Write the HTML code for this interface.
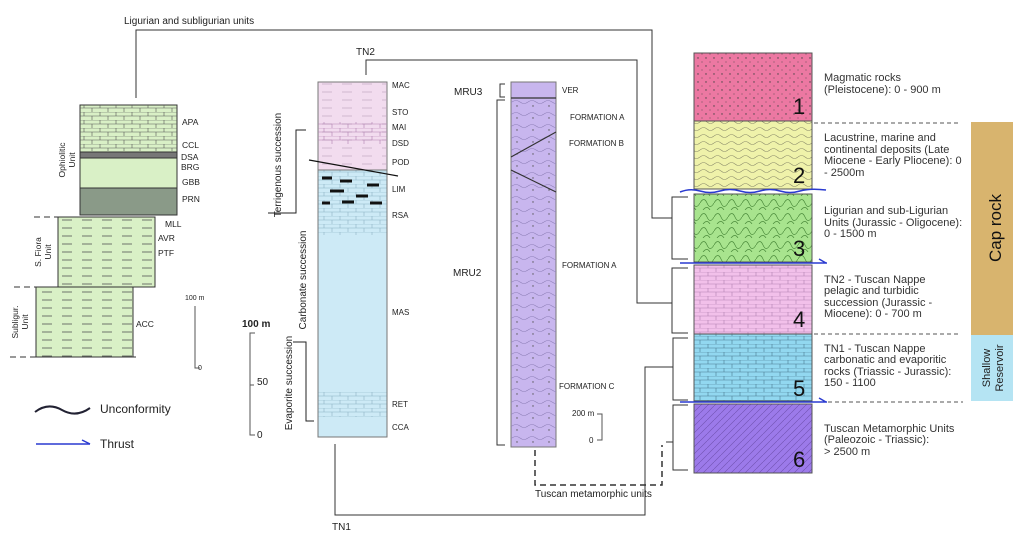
<!DOCTYPE html>
<html><head><meta charset="utf-8"><style>
body{margin:0;background:#fff;}
svg{display:block;font-family:"Liberation Sans",sans-serif;}
</style></head><body>
<svg width="1024" height="533" viewBox="0 0 1024 533" xmlns="http://www.w3.org/2000/svg">
<defs>
<pattern id="dots" width="8" height="8" patternUnits="userSpaceOnUse"><circle cx="2" cy="2" r="0.7" fill="#444"/><circle cx="6" cy="6" r="0.5" fill="#444"/></pattern>
<pattern id="wav" width="14" height="7" patternUnits="userSpaceOnUse"><path d="M0 3 Q3.5 0 7 3 T14 3" fill="none" stroke="#8a8a6a" stroke-width="0.6"/></pattern>
<pattern id="wavm" width="16" height="12" patternUnits="userSpaceOnUse"><path d="M0 6 Q4 3 8 6 T16 6" fill="none" stroke="#8e80b8" stroke-width="0.6"/><circle cx="5" cy="10" r="0.7" fill="#555"/></pattern>
<pattern id="brick" width="16" height="8" patternUnits="userSpaceOnUse"><path d="M0 0H16M0 4H16M4 0V4M12 4V8" fill="none" stroke="#4a7a90" stroke-width="0.6"/></pattern>
<pattern id="brickg" width="16" height="8" patternUnits="userSpaceOnUse"><path d="M0 0H16M0 4H16M4 0V4M12 4V8" fill="none" stroke="#555" stroke-width="0.6"/></pattern>
<pattern id="brickp" width="16" height="8" patternUnits="userSpaceOnUse"><path d="M0 0H16M0 4H16M4 0V4M12 4V8" fill="none" stroke="#b080b0" stroke-width="0.6"/></pattern>
<pattern id="diag" width="7" height="7" patternUnits="userSpaceOnUse"><path d="M0 7L7 0" stroke="#7050b0" stroke-width="0.6"/></pattern>
<pattern id="swirl" width="14" height="14" patternUnits="userSpaceOnUse"><path d="M0 7 Q4 0 7 7 T14 7M3 14 Q7 9 10 14" fill="none" stroke="#4a8a3a" stroke-width="0.7"/></pattern>
<pattern id="hl" width="20" height="8" patternUnits="userSpaceOnUse"><path d="M2 4H12" stroke="#555" stroke-width="0.8"/></pattern>
<pattern id="hlp" width="20" height="8" patternUnits="userSpaceOnUse"><path d="M2 4H12" stroke="#b9a0b9" stroke-width="0.6"/></pattern>
</defs>

<!-- left column -->
<g stroke="#333" stroke-width="1">
<rect x="80" y="105" width="97" height="110" fill="#d9f0c6"/>
<rect x="80" y="105" width="97" height="46" fill="url(#brickg)" stroke="none"/>
<rect x="80" y="152" width="97" height="6" fill="#777"/>
<rect x="80" y="188" width="97" height="27" fill="#8a9a88"/>
<rect x="58" y="217" width="97" height="70" fill="#d9f0c6"/>
<rect x="58" y="217" width="97" height="70" fill="url(#hl)" stroke="none"/>
<rect x="36" y="287" width="97" height="70" fill="#d9f0c6"/>
<rect x="36" y="287" width="97" height="70" fill="url(#hl)" stroke="none"/>
</g>
<g stroke="#333" stroke-dasharray="6,4"><line x1="34" y1="217" x2="60" y2="217"/><line x1="14" y1="287" x2="38" y2="287"/><line x1="10" y1="357" x2="140" y2="357"/></g>
<g font-size="8.5" fill="#222">
<text x="182" y="125">APA</text><text x="182" y="148">CCL</text><text x="181" y="160">DSA</text><text x="181" y="170">BRG</text><text x="182" y="185">GBB</text><text x="182" y="202">PRN</text>
<text x="165" y="227">MLL</text><text x="158" y="241">AVR</text><text x="158" y="256">PTF</text><text x="136" y="327">ACC</text>
<text font-size="7" x="185" y="300">100 m</text><text font-size="7" x="198" y="370">0</text>
</g>
<path d="M195 306V368H200" fill="none" stroke="#555"/>
<g font-size="8.5" fill="#222">
<text transform="translate(65,160) rotate(-90)" text-anchor="middle">Ophiolitic</text><text transform="translate(75,160) rotate(-90)" text-anchor="middle">Unit</text>
<text transform="translate(41,252) rotate(-90)" text-anchor="middle">S. Fiora</text><text transform="translate(51,252) rotate(-90)" text-anchor="middle">Unit</text>
<text transform="translate(18,322) rotate(-90)" text-anchor="middle">Subligur.</text><text transform="translate(28,322) rotate(-90)" text-anchor="middle">Unit</text>
</g>
<!-- legend -->
<path d="M35 412 Q48 402 62 410 T90 408" fill="none" stroke="#223" stroke-width="2"/>
<text x="100" y="413" font-size="12" fill="#222">Unconformity</text>
<line x1="36" y1="444" x2="90" y2="444" stroke="#2a3ad0" stroke-width="1.5"/><path d="M82 440L90 444" stroke="#2a3ad0" stroke-width="1.5"/>
<text x="100" y="448" font-size="12" fill="#222">Thrust</text>

<!-- connectors -->
<g fill="none" stroke="#333" stroke-width="1">
<path d="M136 98V30H652V218H672"/>
<path d="M366 75V60H637V303H672"/>
<path d="M335 444V515H645V367H673"/>
<path d="M688 197H672V259H688M688 268H672V333H688M688 338H673V400H688M688 405H673V470H688M673 442H666"/>
</g>
<path d="M535 450V485H662V445" fill="none" stroke="#333" stroke-width="1.5" stroke-dasharray="6,4"/>
<text x="124" y="24" font-size="10" fill="#222">Ligurian and subligurian units</text>
<text x="356" y="55" font-size="10" fill="#222">TN2</text>
<text x="332" y="530" font-size="10" fill="#222">TN1</text>
<text x="535" y="497" font-size="10" fill="#222">Tuscan metamorphic units</text>

<!-- middle column -->
<rect x="318" y="82" width="69" height="88" fill="#f2dcef" stroke="#777"/>
<rect x="318" y="82" width="69" height="88" fill="url(#hlp)"/>
<rect x="318" y="122" width="69" height="22" fill="url(#brickp)"/>
<rect x="318" y="170" width="69" height="267" fill="#cdeaf6" stroke="#777"/>
<rect x="318" y="170" width="69" height="65" fill="url(#brick)" opacity="0.5"/>
<rect x="318" y="392" width="69" height="25" fill="url(#brick)" opacity="0.5"/>
<path d="M309 160L398 176" stroke="#111" stroke-width="1.2"/>
<g stroke="#111" stroke-width="3"><path d="M322 178h10M340 181h12M367 185h12M330 191h14M356 196h12M322 203h8M342 202h12M370 203h12"/></g>
<g font-size="8" fill="#222">
<text x="392" y="88">MAC</text><text x="392" y="115">STO</text><text x="392" y="130">MAI</text><text x="392" y="146">DSD</text><text x="392" y="165">POD</text><text x="392" y="192">LIM</text><text x="392" y="218">RSA</text><text x="392" y="315">MAS</text><text x="392" y="407">RET</text><text x="392" y="430">CCA</text>
</g>
<g fill="none" stroke="#222"><path d="M306 130H296V213H268"/><path d="M293 342H306V421H314"/></g>
<g font-size="10" fill="#222">
<text transform="translate(281,165) rotate(-90)" text-anchor="middle">Terrigenous succession</text>
<text transform="translate(306,280) rotate(-90)" text-anchor="middle">Carbonate succession</text>
<text transform="translate(292,383) rotate(-90)" text-anchor="middle">Evaporite succession</text>
<text x="242" y="327" font-size="10" font-weight="bold">100 m</text>
<text x="257" y="385">50</text><text x="257" y="438">0</text>
</g>
<path d="M255 333H250V435H255M250 385H254" fill="none" stroke="#555"/>

<!-- MRU column -->
<rect x="511" y="82" width="45" height="365" fill="#c8b6ee" stroke="#777"/>
<rect x="511" y="98" width="45" height="349" fill="url(#wavm)"/>
<line x1="511" y1="98" x2="556" y2="98" stroke="#333" stroke-width="1.2"/>
<path d="M511 157L556 132M511 170L556 192" stroke="#333" stroke-width="1.2"/>
<path d="M505 84H500V97H505M505 100H497V445H505" fill="none" stroke="#333"/>
<g font-size="8" fill="#222"><text x="562" y="93">VER</text><text x="570" y="120">FORMATION A</text><text x="569" y="146">FORMATION B</text><text x="562" y="268">FORMATION A</text><text x="559" y="389">FORMATION C</text>
<text x="572" y="416">200 m</text><text x="589" y="443">0</text></g>
<path d="M597 414H602V440H597" fill="none" stroke="#555"/>
<text x="454" y="95" font-size="10" fill="#222">MRU3</text><text x="453" y="276" font-size="10" fill="#222">MRU2</text>

<!-- right column -->
<g stroke="#555" stroke-width="1">
<rect x="694" y="53" width="118" height="68" fill="#ec78a2"/><rect x="694" y="53" width="118" height="68" fill="url(#dots)"/>
<rect x="694" y="121" width="118" height="68" fill="#eff2aa"/><rect x="694" y="121" width="118" height="68" fill="url(#wav)"/>
<rect x="694" y="194" width="118" height="68" fill="#a8e48e"/><rect x="694" y="194" width="118" height="68" fill="url(#swirl)"/>
<rect x="694" y="265" width="118" height="70" fill="#f2c0ea"/><rect x="694" y="265" width="118" height="70" fill="url(#brickp)"/>
<rect x="694" y="334" width="118" height="67" fill="#92d8f0"/><rect x="694" y="334" width="118" height="67" fill="url(#brick)"/>
<rect x="694" y="404" width="118" height="69" fill="#9c7aea"/><rect x="694" y="404" width="118" height="69" fill="url(#diag)"/>
</g>
<g font-size="22" fill="#111"><text x="793" y="114">1</text><text x="793" y="183">2</text><text x="793" y="256">3</text><text x="793" y="327">4</text><text x="793" y="396">5</text><text x="793" y="467">6</text></g>
<path d="M680 192 Q690 188 700 191 T720 191 T740 191 T760 191 T780 191 T800 191 T826 190" fill="none" stroke="#2a3ad0" stroke-width="1.5"/>
<g stroke="#2a3ad0" stroke-width="1.5" fill="none"><path d="M680 263H827M819 259L826 263"/><path d="M680 402H827M819 398L826 402"/></g>
<g stroke="#555" stroke-dasharray="4,3"><line x1="814" y1="123" x2="960" y2="123"/><line x1="814" y1="334" x2="960" y2="334"/><line x1="828" y1="402" x2="963" y2="402"/></g>
<g font-size="11" fill="#333">
<text x="824" y="81">Magmatic rocks</text><text x="824" y="93">(Pleistocene): 0 - 900 m</text>
<text x="824" y="141">Lacustrine, marine and</text><text x="824" y="153">continental deposits (Late</text><text x="824" y="164">Miocene - Early Pliocene): 0</text><text x="824" y="176">- 2500m</text>
<text x="824" y="214">Ligurian and sub-Ligurian</text><text x="824" y="226">Units (Jurassic - Oligocene):</text><text x="824" y="237">0 - 1500 m</text>
<text x="824" y="283">TN2 - Tuscan Nappe</text><text x="824" y="294">pelagic and turbidic</text><text x="824" y="306">succession (Jurassic -</text><text x="824" y="317">Miocene): 0 - 700 m</text>
<text x="824" y="352">TN1 - Tuscan Nappe</text><text x="824" y="363">carbonatic and evaporitic</text><text x="824" y="375">rocks (Triassic - Jurassic):</text><text x="824" y="386">150 - 1100</text>
<text x="824" y="432">Tuscan Metamorphic Units</text><text x="824" y="443">(Paleozoic - Triassic):</text><text x="824" y="455">&gt; 2500 m</text>
</g>
<rect x="971" y="122" width="42" height="213" fill="#d8b46e"/>
<rect x="971" y="335" width="42" height="66" fill="#b5e4f3"/>
<text transform="translate(1001,228) rotate(-90)" text-anchor="middle" font-size="17" fill="#111">Cap rock</text>
<text transform="translate(990,368) rotate(-90)" text-anchor="middle" font-size="11" fill="#222">Shallow</text>
<text transform="translate(1003,368) rotate(-90)" text-anchor="middle" font-size="11" fill="#222">Reservoir</text>
</svg>
</body></html>
